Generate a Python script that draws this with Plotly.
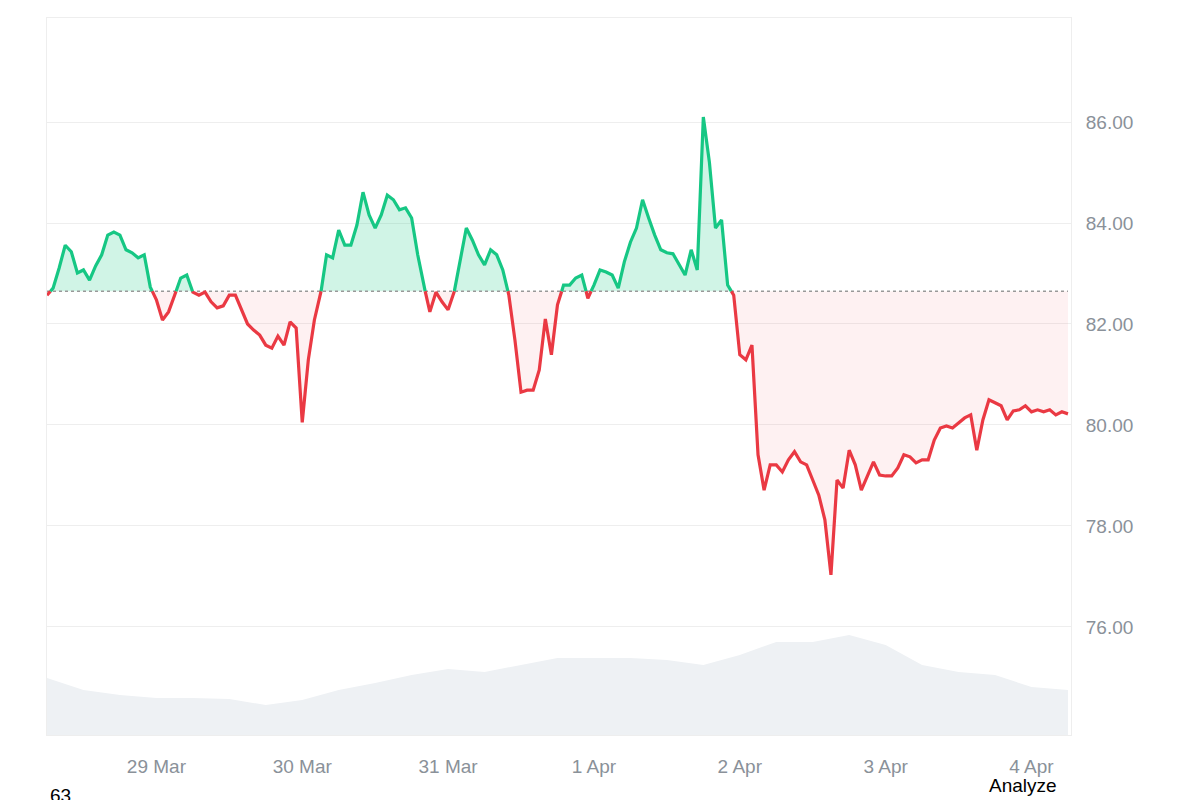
import numpy as np
import pandas as pd
import plotly.graph_objects as go

# hourly prices starting 28 Mar 06:00
price = [82.57, 82.71, 83.11, 83.56, 83.43, 83.01, 83.07, 82.87, 83.15, 83.37,
         83.76, 83.82, 83.76, 83.47, 83.41, 83.31, 83.37, 82.73, 82.48, 82.08,
         82.24, 82.57, 82.91, 82.97, 82.63, 82.57, 82.63, 82.44, 82.32, 82.36,
         82.57, 82.57, 82.28, 82.00, 81.88, 81.78, 81.58, 81.52, 81.76, 81.58,
         82.04, 81.92, 80.05, 81.29, 82.08, 82.57, 83.37, 83.31, 83.86, 83.56,
         83.56, 83.96, 84.61, 84.16, 83.90, 84.16, 84.55, 84.46, 84.26, 84.30,
         84.10, 83.37, 82.77, 82.24, 82.63, 82.44, 82.28, 82.63, 83.27, 83.90,
         83.66, 83.37, 83.17, 83.47, 83.37, 83.07, 82.57, 81.68, 80.65, 80.69,
         80.69, 81.09, 82.10, 81.39, 82.38, 82.77, 82.77, 82.91, 82.97, 82.51,
         82.77, 83.07, 83.03, 82.97, 82.71, 83.23, 83.62, 83.90, 84.46, 84.10,
         83.76, 83.47, 83.41, 83.39, 83.17, 82.97, 83.47, 83.07, 86.10, 85.20,
         83.90, 84.06, 82.77, 82.57, 81.39, 81.29, 81.58, 79.41, 78.71, 79.21,
         79.21, 79.07, 79.31, 79.47, 79.27, 79.21, 78.91, 78.61, 78.12, 77.03,
         78.91, 78.75, 79.50, 79.21, 78.71, 79.01, 79.27, 79.01, 78.99, 78.99,
         79.15, 79.41, 79.37, 79.25, 79.31, 79.31, 79.70, 79.94, 79.98, 79.94,
         80.04, 80.14, 80.20, 79.50, 80.10, 80.50, 80.44, 80.38, 80.10, 80.28,
         80.30, 80.38, 80.26, 80.30, 80.26, 80.30, 80.20, 80.26, 80.22]
# 6-hourly volume (relative units)
volume = [57, 45, 40, 37, 37, 36, 30, 35, 45, 52, 60, 66, 63, 70, 77, 77, 77,
          75, 70, 80, 93, 93, 100, 90, 70, 63, 60, 48, 45]
baseline = 82.65

GREEN = "#16c784"
RED = "#ea3943"

t0 = pd.Timestamp("2025-03-28 06:00")
times = [t0 + pd.Timedelta(hours=i) for i in range(len(price))]
vtimes = [t0 + pd.Timedelta(hours=6 * i) for i in range(len(volume))]

# insert crossing points so colours switch exactly at the baseline
xs, ys = [times[0]], [price[0]]
for i in range(1, len(price)):
    a, b = price[i - 1], price[i]
    if (a - baseline) * (b - baseline) < 0:
        f = (baseline - a) / (b - a)
        xs.append(times[i - 1] + (times[i] - times[i - 1]) * f)
        ys.append(baseline)
    xs.append(times[i])
    ys.append(b)
ys = np.array(ys)
up = np.where(ys >= baseline, ys, None)
dn = np.where(ys <= baseline, ys, None)

fig = go.Figure()
fig.add_trace(go.Scatter(x=vtimes, y=volume, yaxis="y2", mode="lines",
                         line=dict(width=0, color="#eef1f4"), fill="tozeroy",
                         fillcolor="#eef1f4", hoverinfo="skip"))
base = [baseline] * len(xs)
fig.add_trace(go.Scatter(x=xs, y=base, mode="lines", line=dict(width=0), hoverinfo="skip"))
fig.add_trace(go.Scatter(x=xs, y=np.maximum(ys, baseline), mode="lines", line=dict(width=0),
                         fill="tonexty", fillcolor="rgba(22,199,132,0.2)", hoverinfo="skip"))
fig.add_trace(go.Scatter(x=xs, y=base, mode="lines", line=dict(width=0), hoverinfo="skip"))
fig.add_trace(go.Scatter(x=xs, y=np.minimum(ys, baseline), mode="lines", line=dict(width=0),
                         fill="tonexty", fillcolor="rgba(234,57,67,0.07)", hoverinfo="skip"))
fig.add_trace(go.Scatter(x=xs, y=base, mode="lines",
                         line=dict(width=1.5, color="#999", dash="dot"), hoverinfo="skip"))
fig.add_trace(go.Scatter(x=xs, y=dn, mode="lines", line=dict(width=3.2, color=RED)))
fig.add_trace(go.Scatter(x=xs, y=up, mode="lines", line=dict(width=3.2, color=GREEN)))

fig.update_layout(
    width=1184, height=800, showlegend=False,
    paper_bgcolor="white", plot_bgcolor="white",
    margin=dict(l=39, r=121, t=10, b=73, autoexpand=False),
    font=dict(family="Liberation Sans, Arial, sans-serif", color="#8a9199", size=19),
    xaxis=dict(range=[t0, times[-1] + pd.Timedelta(hours=0.5)], tickformat="%-d %b",
               dtick=86400000, showgrid=False, showline=True, linecolor="#eeeeee",
               mirror=True, ticks="", ticklabelstandoff=14),
    yaxis=dict(side="right", range=[73.86, 88.06], tickvals=[76, 78, 80, 82, 84, 86],
               tickformat=".2f", gridcolor="#eeeeee", showline=True, linecolor="#eeeeee",
               mirror=True, zeroline=False, ticklabelstandoff=10),
    yaxis2=dict(overlaying="y", range=[0, 717], visible=False),
    annotations=[
        dict(text="63", x=0, y=0, xref="paper", yref="paper", xanchor="left",
             yanchor="top", showarrow=False, font=dict(color="black", size=19),
             xshift=1, yshift=-48),
        dict(text="Analyze", x=1, y=0, xref="paper", yref="paper", xanchor="right",
             yanchor="top", showarrow=False, font=dict(color="black", size=19),
             xshift=-12, yshift=-38),
    ],
)
fig.write_html("out.html")
